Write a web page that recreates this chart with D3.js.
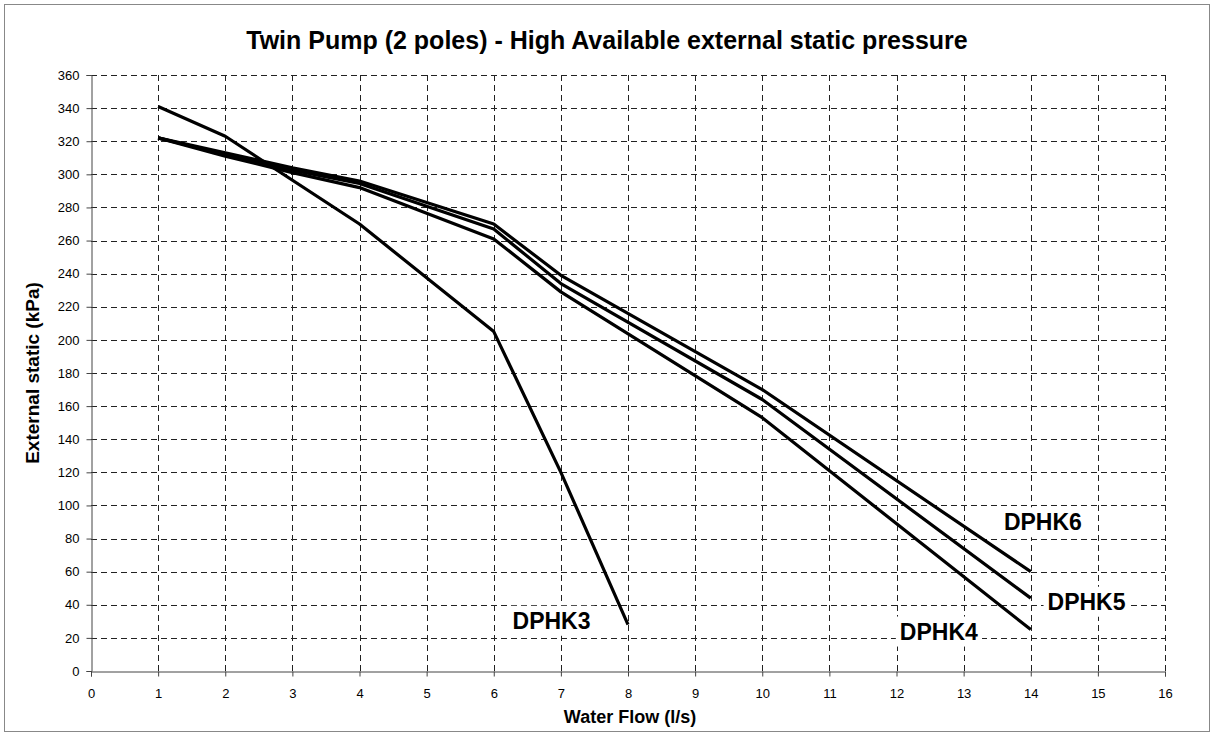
<!DOCTYPE html>
<html>
<head>
<meta charset="utf-8">
<script src="https://cdn.jsdelivr.net/npm/d3@7"></script>
<style>
  body { margin: 0; background: #fff; }
  svg { display: block; font-family: "Liberation Sans", Arial, sans-serif; }
</style>
</head>
<body>
<div id="chart"></div>
<script>
// values
var flow3 = [1, 2, 4, 6, 7, 8];
var dphk3 = [341, 323, 270, 205, 120, 28];

var flow = [1, 2, 3, 4, 6, 7, 10, 14];
var dphk4 = [322, 311, 301, 292, 261, 229, 153, 25];
var dphk5 = [322, 312, 302.5, 294.5, 267, 234, 164, 44];
var dphk6 = [322, 313, 304, 296, 270, 239, 170, 60];

var xTicks = d3.range(0, 17, 1);
var yTicks = d3.range(0, 361, 20);

var labels = [
  {name: "DPHK3", x: 6.28, y: 25.5},
  {name: "DPHK4", x: 12.05, y: 19},
  {name: "DPHK5", x: 14.25, y: 37},
  {name: "DPHK6", x: 13.6, y: 85}
];

var width = 1214, height = 735;
var margin = {top: 75, right: 49, bottom: 64, left: 91};

var svg = d3.select("#chart").append("svg")
    .attr("width", width)
    .attr("height", height);

// outer frame
svg.append("rect")
    .attr("x", 4.5).attr("y", 4.5)
    .attr("width", width - 9).attr("height", height - 8)
    .attr("fill", "none")
    .attr("stroke", "#888")
    .attr("stroke-width", 1);

var x = d3.scaleLinear().domain([0, 16]).range([margin.left, width - margin.right]);
var y = d3.scaleLinear().domain([0, 360]).range([height - margin.bottom, margin.top]);

// grid
svg.append("g").selectAll("line")
    .data(yTicks.slice(1))
    .enter().append("line")
      .attr("x1", x(0)).attr("x2", x(16))
      .attr("y1", function(d) { return Math.round(y(d)) + 0.5; })
      .attr("y2", function(d) { return Math.round(y(d)) + 0.5; })
      .attr("stroke", "#222")
      .attr("stroke-dasharray", "6,4");

svg.append("g").selectAll("line")
    .data(xTicks.slice(1))
    .enter().append("line")
      .attr("y1", y(0)).attr("y2", y(360))
      .attr("x1", function(d) { return Math.round(x(d)) + 0.5; })
      .attr("x2", function(d) { return Math.round(x(d)) + 0.5; })
      .attr("stroke", "#222")
      .attr("stroke-dasharray", "6,4");

// axes
var xAxis = svg.append("g")
    .attr("transform", "translate(0," + (Math.round(y(0)) + 0.5) + ")")
    .call(d3.axisBottom(x).tickValues(xTicks).tickSize(5).tickPadding(12).tickFormat(d3.format("d")));
var yAxis = svg.append("g")
    .attr("transform", "translate(" + (Math.round(x(0)) + 0.5) + ",0)")
    .call(d3.axisLeft(y).tickValues(yTicks).tickSize(5).tickPadding(7).tickFormat(d3.format("d")));

[xAxis, yAxis].forEach(function(a) {
  a.select(".domain").attr("stroke", "#444");
  a.selectAll(".tick line").attr("stroke", "#444");
  a.selectAll("text").attr("font-size", 13).attr("fill", "#000")
      .attr("font-family", "Liberation Sans, Arial, sans-serif");
});

// curves
var line = d3.line()
    .x(function(d) { return x(d[0]); })
    .y(function(d) { return y(d[1]); });

var series = [
  d3.zip(flow3, dphk3),
  d3.zip(flow, dphk4),
  d3.zip(flow, dphk5),
  d3.zip(flow, dphk6)
];

svg.append("g").selectAll("path")
    .data(series)
    .enter().append("path")
      .attr("d", line)
      .attr("fill", "none")
      .attr("stroke", "#000")
      .attr("stroke-width", 3.2)
      .attr("stroke-linejoin", "round");

// curve labels with white boxes
var lab = svg.append("g").selectAll("g")
    .data(labels)
    .enter().append("g");

lab.append("text")
    .attr("x", function(d) { return x(d.x); })
    .attr("y", function(d) { return y(d.y); })
    .attr("font-size", 23)
    .attr("font-weight", "bold")
    .text(function(d) { return d.name; });

lab.each(function() {
  var g = d3.select(this);
  var b = g.select("text").node().getBBox();
  g.insert("rect", "text")
      .attr("x", b.x - 4).attr("y", b.y - 2)
      .attr("width", b.width + 8).attr("height", b.height + 4)
      .attr("fill", "#fff");
});

// titles
svg.append("text")
    .attr("x", 607).attr("y", 49)
    .attr("text-anchor", "middle")
    .attr("font-size", 25)
    .attr("font-weight", "bold")
    .text("Twin Pump (2 poles) - High Available external static pressure");

svg.append("text")
    .attr("x", (x(0) + x(16)) / 2 + 2).attr("y", 723)
    .attr("text-anchor", "middle")
    .attr("font-size", 18)
    .attr("font-weight", "bold")
    .text("Water Flow (l/s)");

svg.append("text")
    .attr("transform", "translate(39," + ((y(0) + y(360)) / 2) + ") rotate(-90)")
    .attr("text-anchor", "middle")
    .attr("font-size", 19)
    .attr("font-weight", "bold")
    .text("External static (kPa)");
</script>
</body>
</html>
